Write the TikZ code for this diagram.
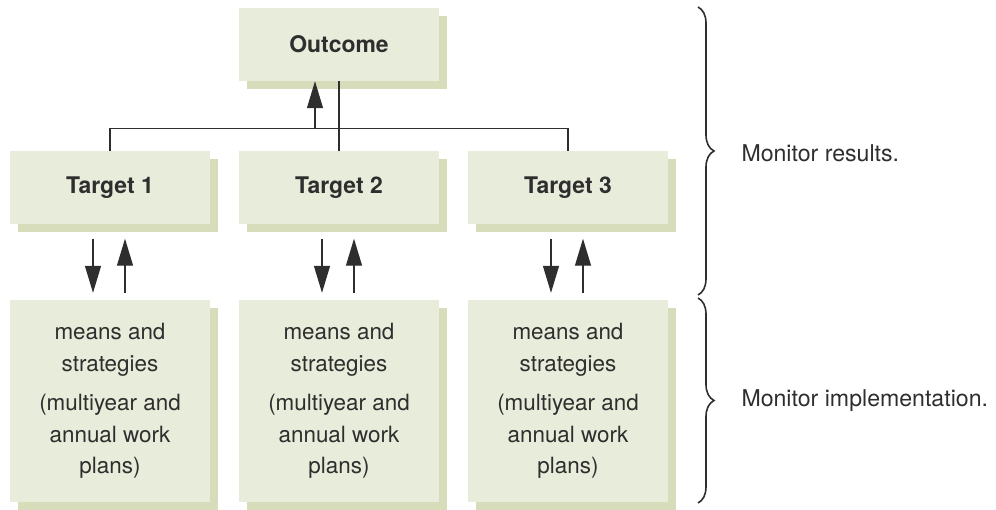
\documentclass[tikz,border=0pt]{standalone}
\usepackage{fontspec}
\setmainfont{TeX Gyre Heros}
\usetikzlibrary{arrows.meta,shadows,decorations.pathreplacing}
\definecolor{boxgreen}{HTML}{E8ECDA}
\definecolor{shadegreen}{HTML}{D7DDBA}
\definecolor{inkgray}{HTML}{2E2E2E}
\tikzset{
  card/.style={fill=boxgreen, minimum width=200bp, inner sep=0pt, align=center,
    text=inkgray, font=\fontsize{22.5}{31.5}\selectfont,
    drop shadow={shadow xshift=8bp, shadow yshift=-8bp, fill=shadegreen, opacity=1}},
  headcard/.style={card, minimum height=73bp, font=\fontsize{23}{27}\selectfont\bfseries},
  plancard/.style={card, minimum height=202bp},
  link/.style={draw=inkgray, line width=1.2bp},
  flow/.style={link, -{Triangle[length=27bp,width=16bp]}},
  bracket/.style={draw=inkgray, line width=1.6bp, decorate,
    decoration={brace, amplitude=16bp}},
  note/.style={anchor=west, text=inkgray, font=\fontsize{23.2}{27}\selectfont}
}
\begin{document}
\begin{tikzpicture}[x=1bp,y=-1bp]
  \useasboundingbox (0,0) rectangle (996,510);
  % boxes
  \node[headcard] (out) at (339,44.5) {Outcome};
  \foreach \i/\x in {1/110,2/339,3/568}{
    \node[headcard] (t\i) at (\x,188) {Target \i};
    \node[plancard] (m\i) at (\x,401) {means and\\strategies\\[8bp](multiyear and\\annual work\\plans)};
  }
  % connectors
  \draw[link] (t1.north) -- ++(0,-23) -| (t3.north);
  \draw[link] (t2.north) -- (out.south);
  \coordinate (bus) at (315,128);
  \draw[flow] (bus) -- (bus |- out.south);
  \foreach \i in {1,2,3}{
    \draw[flow, shorten <=14bp, shorten >=7bp] ([xshift=-17bp]t\i.south) -- ([xshift=-17bp]m\i.north);
    \draw[flow, shorten <=7bp, shorten >=14bp] ([xshift=15bp]m\i.north) -- ([xshift=15bp]t\i.south);
  }
  % braces
  \coordinate (b1) at (698,7);
  \coordinate (b2) at (698,295);
  \coordinate (b3) at (698,298);
  \coordinate (b4) at (698,503);
  \draw[bracket] (b1) -- (b2);
  \draw[bracket] (b3) -- (b4);
  \node[note] (res) at (738,153) {Monitor results.};
  \node[note] (imp) at (738,401) {Monitor implementation.};
\end{tikzpicture}
\end{document}
